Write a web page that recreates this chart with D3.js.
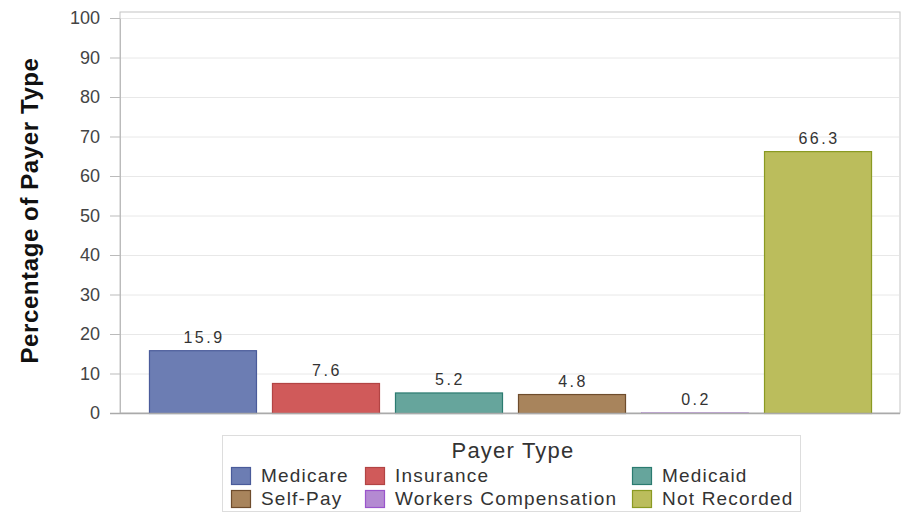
<!DOCTYPE html>
<html>
<head>
<meta charset="utf-8">
<script src="https://cdn.jsdelivr.net/npm/d3@7"></script>
<style>
  body { margin: 0; background: #fff; }
  svg { display: block; font-family: "Liberation Sans", Arial, sans-serif; }
</style>
</head>
<body>
<script>

// data
var categories = ["Medicare", "Insurance", "Medicaid", "Self-Pay", "Workers Compensation", "Not Recorded"];
var values = [15.9, 7.6, 5.2, 4.8, 0.2, 66.3];
var yTicks = [0, 10, 20, 30, 40, 50, 60, 70, 80, 90, 100];

var fills = ["#6c7db3", "#d05a5a", "#66a59c", "#a8845c", "#b48ad2", "#bbbd5c"];
var strokes = ["#4a5b9a", "#b24444", "#2b7b70", "#6e4c2c", "#9a55cc", "#8a9a22"];

const width = 901;
const height = 512;
const marginTop = 12;
const marginRight = 1;
const marginBottom = 99;
const marginLeft = 120;

const svg = d3.select("body").append("svg")
    .attr("width", width)
    .attr("height", height);

const x = d3.scaleBand()
    .domain(categories)
    .range([marginLeft, width - marginRight])
    .paddingInner(0.13)
    .paddingOuter(0.2355);

const y = d3.scaleLinear()
    .domain([0, 100])
    .range([height - marginBottom, 18]);

// plot frame
svg.append("rect")
    .attr("x", marginLeft)
    .attr("y", marginTop)
    .attr("width", width - marginRight - marginLeft)
    .attr("height", y(0) - marginTop)
    .attr("fill", "none")
    .attr("stroke", "#c4c4c4");

// gridlines
svg.append("g")
    .selectAll()
    .data(yTicks.filter(d => d > 0))
    .join("line")
    .attr("x1", marginLeft)
    .attr("x2", width - marginRight - 1)
    .attr("y1", d => y(d) + 0.5)
    .attr("y2", d => y(d) + 0.5)
    .attr("stroke", "#e8e8e8");

// y axis
svg.append("g")
    .attr("transform", `translate(${marginLeft},0)`)
    .call(d3.axisLeft(y).tickValues(yTicks).tickSize(10).tickPadding(10).tickSizeOuter(0))
    .call(g => g.select(".domain").attr("stroke", "#bbbbbb"))
    .call(g => g.selectAll(".tick line").attr("stroke", "#bbbbbb"))
    .call(g => g.selectAll(".tick text")
        .attr("font-size", 18)
        .attr("font-family", "Liberation Sans, Arial, sans-serif")
        .attr("fill", "#444"));

// bars
svg.append("g")
    .selectAll()
    .data(values)
    .join("rect")
    .attr("x", (d, i) => x(categories[i]) + 0.5)
    .attr("y", d => y(d) + 0.5)
    .attr("width", x.bandwidth())
    .attr("height", d => y(0) - y(d))
    .attr("fill", (d, i) => fills[i])
    .attr("stroke", (d, i) => strokes[i])
    .attr("stroke-width", d => d < 1 ? 0.3 : 1.2);

// x axis line
svg.append("line")
    .attr("x1", marginLeft - 10)
    .attr("x2", width - marginRight)
    .attr("y1", y(0) + 0.5)
    .attr("y2", y(0) + 0.5)
    .attr("stroke", "#aaaaaa")
    .attr("stroke-width", 1.5);

// value labels
svg.append("g")
    .selectAll()
    .data(values)
    .join("text")
    .attr("x", (d, i) => x(categories[i]) + x.bandwidth() / 2 + 1.5)
    .attr("y", d => y(d) - 7)
    .attr("text-anchor", "middle")
    .attr("font-size", 16)
    .attr("letter-spacing", 2.5)
    .attr("fill", "#333")
    .text(d => d.toFixed(1));

// y title
svg.append("text")
    .attr("transform", `translate(38,${(marginTop + y(0)) / 2 - 2}) rotate(-90)`)
    .attr("text-anchor", "middle")
    .attr("font-size", 24)
    .attr("letter-spacing", 0.6)
    .attr("font-weight", "bold")
    .attr("fill", "#111")
    .text("Percentage of Payer Type");

// legend
const legend = svg.append("g");
legend.append("rect")
    .attr("x", 222.5)
    .attr("y", 435.5)
    .attr("width", 578)
    .attr("height", 76)
    .attr("fill", "#fff")
    .attr("stroke", "#dddddd");

legend.append("text")
    .attr("x", 513)
    .attr("y", 458)
    .attr("text-anchor", "middle")
    .attr("font-size", 22)
    .attr("letter-spacing", 1.2)
    .attr("fill", "#333")
    .text("Payer Type");

var colX = [231, 365, 632];
var rowY = [467, 490];

const items = legend.selectAll("g.item")
    .data(categories)
    .join("g")
    .attr("class", "item")
    .attr("transform", (d, i) => `translate(${colX[i % 3]},${rowY[Math.floor(i / 3)]})`);

items.append("rect")
    .attr("x", 0.5)
    .attr("y", 0.5)
    .attr("width", 19)
    .attr("height", 17)
    .attr("fill", (d, i) => fills[i])
    .attr("stroke", (d, i) => strokes[i])
    .attr("stroke-width", 1.2);

items.append("text")
    .attr("x", 30)
    .attr("y", 15)
    .attr("font-size", 19)
    .attr("letter-spacing", 1.2)
    .attr("fill", "#333")
    .text(d => d);

</script>
</body>
</html>
